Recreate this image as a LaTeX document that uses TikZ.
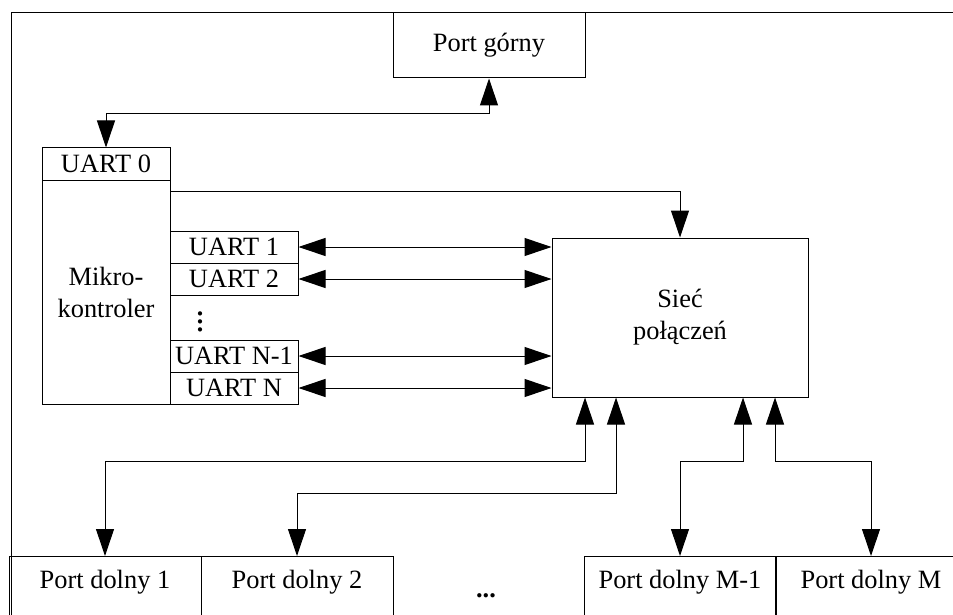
\documentclass[tikz,border=0pt]{standalone}
\usepackage{fontspec}
\setmainfont{Liberation Serif}
\usepackage{tikz}
\usetikzlibrary{arrows.meta,calc}

\begin{document}
\begin{tikzpicture}[x=0.5pt,y=-0.5pt,<->,>={Triangle[length=13.5pt,width=9pt]},
                    line width=0.5pt,
                    every node/.style={font=\fontsize{13.2}{16}\selectfont}]
\tikzstyle{blok}=[draw=black,rectangle,inner sep=0pt,align=center]
\tikzstyle{uart}=[blok,minimum width=64pt,minimum height=16pt]
\tikzstyle{dolny}=[blok,anchor=north,minimum width=96pt,text height=16pt,text depth=40pt]
\useasboundingbox (0,0) rectangle (953,615);
\clip (0,0) rectangle (953,615);
\draw[-] (953,13) -- (11,13) -- (11,615);
\node[blok,minimum width=96pt,minimum height=32.5pt] (gorny) at (489,45.5) {Port górny};
\node[uart] (uart0) at (106,164) {UART 0};
\node[blok,minimum width=64pt,minimum height=112pt] (mikro) at (106,292) {Mikro-\\kontroler};
\node[uart] (uart1) at (234,247) {UART 1};
\node[uart] (uart2) at (234,279) {UART 2};
\node[font=\fontsize{18}{18}\selectfont\boldmath] (kropki) at (200,316) {$\vdots$};
\node[uart] (uartn1) at (234,356) {UART N-1};
\node[uart] (uartn) at (234,388) {UART N};
\node[blok,minimum width=128pt,minimum height=79.5pt] (siec) at (680,317.5) {Sieć\\połączeń};
\node[dolny] (dolny1) at (105,556) {Port dolny 1};
\node[dolny] (dolny2) at (297,556) {Port dolny 2};
\node (kropki2) at (486,596) {\textbf{...}};
\node[dolny] (dolnyM1) at (680,556) {Port dolny M-1};
\node[dolny] (dolnyM) at (871,556) {Port dolny M};
\draw (gorny.south) -- ++(0,35) -| (uart0.north);
\draw[->] ($(mikro.north east)+(0,12)$) -| (siec.north);
\draw (uart1.east) -- (uart1.east -| siec.west);
\draw (uart2.east) -- (uart2.east -| siec.west);
\draw (uartn1.east) -- (uartn1.east -| siec.west);
\draw (uartn.east) -- (uartn.east -| siec.west);
\draw ([xshift=-47.5pt]siec.south) -- ++(0,64) -| (dolny1.north);
\draw ([xshift=-32pt]siec.south) -- ++(0,96) -| (dolny2.north);
\draw ([xshift=31.5pt]siec.south) -- ++(0,64) -| (dolnyM1.north);
\draw ([xshift=47.5pt]siec.south) -- ++(0,64) -| (dolnyM.north);
\end{tikzpicture}
\end{document}
